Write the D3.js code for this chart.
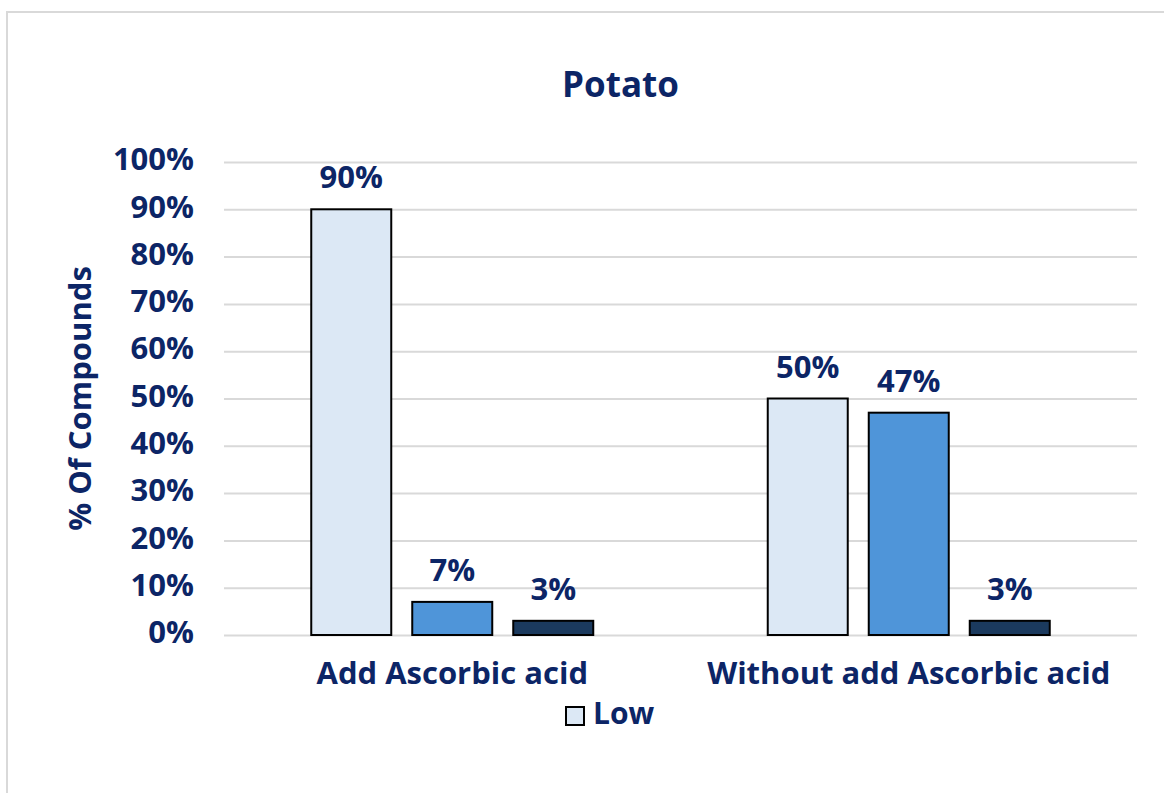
<!DOCTYPE html>
<html>
<head>
<meta charset="utf-8">
<script src="https://cdn.jsdelivr.net/npm/d3@7"></script>
<style>
  html, body { margin: 0; padding: 0; background: #fff; }
  svg { display: block; font-family: "Open Sans", "Noto Sans", sans-serif; font-weight: 700; }
</style>
</head>
<body>
<svg id="chart" width="1164" height="793"></svg>
<script>
// Share of compounds per treatment, split by level
const categories = ["Add Ascorbic acid", "Without add Ascorbic acid"];
const seriesNames = ["Low", "Medium", "High"];
const low    = [0.90, 0.50];
const medium = [0.07, 0.47];
const high   = [0.03, 0.03];
const yTicks = [0, 0.1, 0.2, 0.3, 0.4, 0.5, 0.6, 0.7, 0.8, 0.9, 1.0];
const seriesColors = ["#dce8f5", "#4f95d9", "#1b3a5e"];
const legendShown = ["Low"];

const values = [low, medium, high];
const textColor = "#0c2566";

const svg = d3.select("#chart");
const W = 1164, H = 793;
const plot = { left: 224, right: 1137, top: 162, bottom: 635 };

// chart area frame
svg.append("rect")
  .attr("x", 7).attr("y", 12)
  .attr("width", W).attr("height", H)
  .attr("fill", "#fff").attr("stroke", "#d9d9d9").attr("stroke-width", 2);

const x0 = d3.scaleBand().domain(categories).range([plot.left, plot.right]).padding(0);
const barW = 80, barStep = 101;
const innerP = (barStep - barW) / barStep;
const outerP = (x0.bandwidth() / barStep - (seriesNames.length - innerP)) / 2;
const x1 = d3.scaleBand().domain(seriesNames).range([0, x0.bandwidth()])
  .paddingInner(innerP).paddingOuter(outerP);
const y = d3.scaleLinear().domain([0, 1]).range([plot.bottom, plot.top]);
const color = d3.scaleOrdinal().domain(seriesNames).range(seriesColors);
const pct = d3.format(".0%");

// title
svg.append("text")
  .attr("x", (plot.left + plot.right) / 2 - 60).attr("y", 97)
  .attr("text-anchor", "middle").attr("fill", textColor)
  .style("font-size", "35px").text("Potato");

// gridlines + y tick labels
const yAxis = d3.axisLeft(y).tickValues(yTicks).tickFormat(pct)
  .tickSize(-(plot.right - plot.left)).tickPadding(30);
const gy = svg.append("g").attr("transform", `translate(${plot.left},0)`).call(yAxis);
gy.select(".domain").remove();
gy.selectAll(".tick line").attr("stroke", "#d9d9d9").attr("stroke-width", 2);
gy.selectAll(".tick text").attr("fill", textColor)
  .style("font-size", "31px").style("font-family", "'Open Sans', sans-serif").style("font-weight", 700)
  .attr("dy", "0.25em");

// bars
const rows = [];
categories.forEach((c, i) => seriesNames.forEach((s, j) => rows.push({ cat: c, series: s, value: values[j][i] })));

const g = svg.append("g");
g.selectAll("rect.bar").data(rows).join("rect")
  .attr("class", "bar")
  .attr("x", d => x0(d.cat) + x1(d.series))
  .attr("y", d => y(d.value))
  .attr("width", x1.bandwidth())
  .attr("height", d => y(0) - y(d.value))
  .attr("fill", d => color(d.series))
  .attr("stroke", "#000").attr("stroke-width", 2);

// value labels
g.selectAll("text.val").data(rows).join("text")
  .attr("class", "val")
  .attr("x", d => x0(d.cat) + x1(d.series) + x1.bandwidth() / 2)
  .attr("y", d => y(d.value) - 21)
  .attr("text-anchor", "middle").attr("fill", textColor)
  .style("font-size", "31px").text(d => pct(d.value));

// category axis labels
const xAxis = d3.axisBottom(x0).tickSize(0).tickPadding(27);
const gx = svg.append("g").attr("transform", `translate(0,${plot.bottom})`).call(xAxis);
gx.select(".domain").remove();
gx.selectAll(".tick text").attr("fill", textColor)
  .style("font-size", "31px").style("font-family", "'Open Sans', sans-serif").style("font-weight", 700);

// y axis title
svg.append("text")
  .attr("transform", `translate(91,${(plot.top + plot.bottom) / 2}) rotate(-90)`)
  .attr("text-anchor", "middle").attr("fill", textColor)
  .style("font-size", "31px").text("% Of Compounds");

// legend
const lg = svg.append("g").attr("transform", "translate(566,707)");
legendShown.forEach((name, i) => {
  lg.append("rect").attr("x", 0).attr("y", 0).attr("width", 18).attr("height", 18)
    .attr("fill", color(name)).attr("stroke", "#000").attr("stroke-width", 2);
  lg.append("text").attr("x", 27).attr("y", 17).attr("fill", textColor)
    .style("font-size", "30px").text(name);
});
</script>
</body>
</html>
